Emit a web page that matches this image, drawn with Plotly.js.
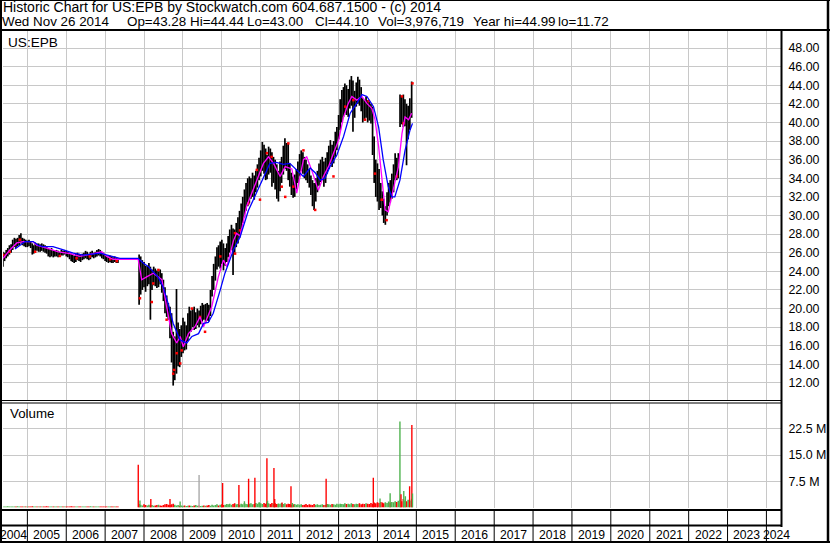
<!DOCTYPE html>
<html><head><meta charset="utf-8">
<script src="https://cdn.plot.ly/plotly-3.0.1.min.js"></script>
<style>html,body{margin:0;padding:0;background:#fff;overflow:hidden}#chart{width:830px;height:543px}</style>
</head><body><div id="chart"></div>
<script>
// ---- price bars (semi-monthly high / low / close) ----
const barDate = [
'2004-05-16','2004-06-01','2004-06-16','2004-07-01','2004-07-16','2004-08-01','2004-08-16','2004-09-01','2004-09-16','2004-10-01','2004-10-16','2004-11-01','2004-11-16','2004-12-01','2004-12-16',
'2005-01-01','2005-01-16','2005-02-01','2005-02-16','2005-03-01','2005-03-16','2005-04-01','2005-04-16','2005-05-01','2005-05-16','2005-06-01','2005-06-16','2005-07-01','2005-07-16','2005-08-01','2005-08-16','2005-09-01','2005-09-16','2005-10-01','2005-10-16','2005-11-01','2005-11-16','2005-12-01','2005-12-16',
'2006-01-01','2006-01-16','2006-02-01','2006-02-16','2006-03-01','2006-03-16','2006-04-01','2006-04-16','2006-05-01','2006-05-16','2006-06-01','2006-06-16','2006-07-01','2006-07-16','2006-08-01','2006-08-16','2006-09-01','2006-09-16','2006-10-01','2006-10-16','2006-11-01','2006-11-16','2006-12-01','2006-12-16',
'2007-01-01','2007-01-16','2007-02-01','2007-02-16','2007-03-01','2007-03-16','2007-04-01','2007-04-16','2007-05-01',
'2007-11-16','2007-12-01','2007-12-16',
'2008-01-01','2008-01-16','2008-02-01','2008-02-16','2008-03-01','2008-03-16','2008-04-01','2008-04-16','2008-05-01','2008-05-16','2008-06-01','2008-06-16','2008-07-01','2008-07-16','2008-08-01','2008-08-16','2008-09-01','2008-09-16','2008-10-01','2008-10-16','2008-11-01','2008-11-16','2008-12-01','2008-12-16',
'2009-01-01','2009-01-16','2009-02-01','2009-02-16','2009-03-01','2009-03-16','2009-04-01','2009-04-16','2009-05-01','2009-05-16','2009-06-01','2009-06-16','2009-07-01','2009-07-16','2009-08-01','2009-08-16','2009-09-01','2009-09-16','2009-10-01','2009-10-16','2009-11-01','2009-11-16','2009-12-01','2009-12-16',
'2010-01-01','2010-01-16','2010-02-01','2010-02-16','2010-03-01','2010-03-16','2010-04-01','2010-04-16','2010-05-01','2010-05-16','2010-06-01','2010-06-16','2010-07-01','2010-07-16','2010-08-01','2010-08-16','2010-09-01','2010-09-16','2010-10-01','2010-10-16','2010-11-01','2010-11-16','2010-12-01','2010-12-16',
'2011-01-01','2011-01-16','2011-02-01','2011-02-16','2011-03-01','2011-03-16','2011-04-01','2011-04-16','2011-05-01','2011-05-16','2011-06-01','2011-06-16','2011-07-01','2011-07-16','2011-08-01','2011-08-16','2011-09-01','2011-09-16','2011-10-01','2011-10-16','2011-11-01','2011-11-16','2011-12-01','2011-12-16',
'2012-01-01','2012-01-16','2012-02-01','2012-02-16','2012-03-01','2012-03-16','2012-04-01','2012-04-16','2012-05-01','2012-05-16','2012-06-01','2012-06-16','2012-07-01','2012-07-16','2012-08-01','2012-08-16','2012-09-01','2012-09-16','2012-10-01','2012-10-16','2012-11-01','2012-11-16','2012-12-01','2012-12-16',
'2013-01-01','2013-01-16','2013-02-01','2013-02-16','2013-03-01','2013-03-16','2013-04-01','2013-04-16','2013-05-01','2013-05-16','2013-06-01','2013-06-16','2013-07-01','2013-07-16','2013-08-01','2013-08-16','2013-09-01','2013-09-16','2013-10-01','2013-10-16','2013-11-01','2013-11-16','2013-12-01','2013-12-16',
'2014-01-01','2014-01-16','2014-02-01','2014-02-16','2014-03-01','2014-03-16','2014-04-01','2014-04-16','2014-05-01','2014-05-16','2014-06-01','2014-06-16','2014-07-01','2014-07-16','2014-08-01','2014-08-16','2014-09-01','2014-09-16','2014-10-01','2014-10-16','2014-11-01','2014-11-18'
];
const barHigh = [
26.1,26.0,26.3,26.5,26.8,26.9,27.4,27.6,27.5,27.6,27.9,28.1,27.6,27.5,27.4,
27.3,27.4,27.2,27.0,26.8,27.1,27.0,27.0,26.9,27.0,26.9,26.8,26.7,26.5,26.4,26.5,26.3,26.2,26.3,26.2,26.1,26.3,26.2,26.3,
26.2,26.1,26.0,25.9,25.8,25.7,25.9,26.0,25.9,25.8,25.9,26.0,26.2,26.1,25.9,26.1,26.2,26.0,26.1,26.3,26.4,26.3,26.1,26.0,
25.8,25.7,25.6,25.7,25.6,25.5,25.6,25.5,25.4,
25.8,25.6,25.2,
25.0,24.6,24.6,24.9,24.5,24.2,24.5,24.3,24.1,24.0,24.2,23.8,23.1,22.3,21.4,20.6,20.2,19.5,17.5,17.0,22.1,18.5,17.8,18.2,
19.0,18.6,18.2,19.5,20.2,19.8,20.0,20.2,19.6,20.0,19.8,20.3,20.6,20.4,20.5,20.6,20.4,22.0,23.5,24.8,25.6,26.6,26.8,27.2,
27.4,27.0,26.5,27.0,27.8,28.5,29.0,28.6,28.5,29.2,29.8,30.5,31.3,32.0,32.8,33.5,34.0,34.2,34.0,34.6,34.3,34.8,35.5,36.2,
37.0,37.9,37.6,37.2,36.5,37.4,37.2,36.8,36.3,36.0,35.5,34.8,35.8,36.3,37.5,38.3,37.8,37.8,35.6,34.6,34.2,34.4,35.0,35.8,
36.6,37.0,36.8,36.3,36.0,35.5,35.0,34.3,33.8,33.5,34.0,34.8,35.6,36.0,36.3,35.8,36.2,36.8,37.5,38.1,37.6,38.0,39.0,39.5,
40.8,42.5,43.5,43.8,44.2,44.0,43.6,44.6,44.99,44.5,43.4,44.3,44.9,44.6,43.8,42.6,42.4,42.8,42.4,42.2,42.0,41.7,38.5,36.0,
35.6,35.0,33.5,32.6,31.8,31.0,32.5,33.5,33.8,34.5,35.5,36.7,36.2,36.7,43.0,42.8,43.0,42.5,42.0,41.8,42.6,44.4
];
const barLow = [
24.5,25.1,25.4,25.6,25.8,26.0,26.3,26.6,26.5,26.7,26.8,27.0,26.8,26.7,26.6,
26.6,26.7,26.5,25.8,25.9,26.2,26.2,26.1,26.1,26.2,26.1,26.0,25.9,25.6,25.5,25.6,25.5,25.6,25.6,25.5,25.6,25.7,25.7,25.8,
25.6,25.5,25.3,25.1,25.0,24.9,25.0,25.2,25.1,25.0,25.2,25.3,25.4,25.3,25.2,25.3,25.5,25.4,25.5,25.6,25.7,25.6,25.4,25.3,
25.1,25.0,24.9,25.0,24.9,24.9,25.0,24.9,24.9,
20.4,21.5,22.0,
22.3,21.8,22.4,22.6,18.8,22.0,22.5,22.4,22.2,22.3,22.6,21.7,20.8,19.5,19.1,18.8,16.8,14.2,11.72,12.3,13.0,13.8,13.7,14.8,
15.2,15.5,15.6,16.5,17.0,17.5,18.0,17.7,17.8,18.2,18.0,18.3,18.6,18.8,18.5,18.7,18.6,19.2,21.3,22.0,23.0,24.2,24.5,24.3,
24.8,24.1,24.6,25.0,25.5,26.0,26.3,23.6,26.0,26.6,27.0,27.6,28.5,29.2,29.8,30.5,31.0,31.3,31.8,32.0,31.7,32.5,33.0,33.8,
34.2,34.8,34.5,33.8,33.9,34.4,34.6,33.1,33.5,32.8,31.8,31.5,32.6,33.5,34.4,35.0,34.8,33.8,33.1,32.2,31.9,32.0,32.8,33.5,
34.2,34.8,34.5,34.0,33.8,33.5,33.0,32.2,31.0,30.6,31.5,32.5,33.2,33.6,33.8,33.1,33.5,34.5,35.0,35.5,35.2,35.6,36.3,37.0,
38.2,39.2,40.0,40.6,41.0,40.8,40.6,41.5,41.8,39.0,40.5,41.7,42.0,41.8,41.2,40.0,40.2,40.5,40.0,40.2,39.9,36.5,33.5,32.0,
31.5,30.6,30.8,30.0,29.2,29.0,30.0,31.0,31.4,31.8,32.5,33.8,33.8,34.0,39.5,39.8,39.5,39.6,35.4,38.2,39.2,40.5
];
const barClose = [
25.3,25.7,25.9,26.1,26.4,26.6,27.0,27.1,26.9,27.3,27.6,27.4,27.1,27.2,27.0,
27.1,27.0,26.7,26.2,26.5,26.8,26.6,26.7,26.5,26.6,26.4,26.3,26.2,25.9,26.0,26.1,25.8,25.9,26.0,25.8,25.9,26.1,26.0,26.1,
25.9,25.8,25.6,25.4,25.3,25.2,25.5,25.7,25.5,25.4,25.6,25.7,25.9,25.8,25.5,25.7,25.9,25.6,25.8,26.0,26.1,25.9,25.7,25.6,
25.4,25.2,25.3,25.4,25.2,25.1,25.3,25.2,25.1,
22.5,23.5,24.0,
23.2,22.6,23.8,24.0,22.8,23.3,23.8,23.5,23.1,23.6,23.4,22.5,21.6,20.4,20.0,19.5,18.0,16.0,13.5,14.8,15.7,16.2,15.5,16.8,
17.5,16.6,17.0,18.5,18.0,18.8,19.2,18.6,18.9,19.3,18.7,19.6,19.8,19.5,20.0,19.8,19.3,21.0,22.8,23.6,24.5,25.8,25.4,26.2,
26.0,25.1,25.5,26.4,27.0,27.5,28.2,27.2,27.0,28.0,28.6,29.5,30.2,30.8,31.5,32.2,32.6,33.0,33.2,33.6,32.9,33.8,34.5,35.2,
36.0,36.7,35.8,35.0,35.4,36.2,36.0,34.5,34.7,33.9,33.0,33.2,34.5,35.3,36.4,36.8,35.9,34.6,34.0,33.0,32.8,33.6,34.2,35.0,
35.8,36.3,35.7,35.0,34.8,34.3,33.6,33.0,32.2,32.0,33.0,33.8,34.4,35.0,35.3,34.6,35.0,35.8,36.6,37.0,36.5,37.2,38.0,38.6,
39.8,41.5,42.2,42.5,42.9,42.0,42.4,43.2,43.5,41.5,42.0,43.1,43.6,42.8,42.2,41.5,41.0,41.8,41.2,40.8,40.5,38.0,35.0,34.2,
33.0,32.0,31.5,30.8,30.2,30.4,31.6,32.8,32.4,33.6,34.6,35.4,35.2,35.8,41.5,41.2,40.6,41.0,38.5,40.2,41.0,44.1
];
// ---- volume (millions) per bar ----
const barVol = [
0.30,0.25,0.30,0.35,0.28,0.30,0.32,0.27,0.30,0.33,0.28,0.30,0.26,0.30,0.29,
0.30,0.27,0.32,0.35,0.30,0.28,0.30,0.26,0.31,0.29,0.30,0.27,0.33,0.30,0.28,0.30,0.32,0.27,0.30,0.29,0.31,0.28,0.30,0.26,
0.30,0.28,0.31,0.33,0.30,0.27,0.30,0.32,0.29,0.30,0.28,0.31,0.30,0.27,0.30,0.33,0.29,0.30,0.28,0.31,0.30,0.27,0.29,0.30,
0.30,0.28,0.31,0.29,0.30,0.27,0.30,0.32,0.29,
1.0,0.8,0.6,
0.9,0.7,0.6,0.8,0.6,0.7,0.5,0.6,0.7,0.8,0.6,0.5,0.7,0.9,1.0,0.8,0.7,0.9,1.1,0.8,0.6,0.7,0.5,0.6,
0.5,0.6,0.4,0.5,0.6,0.5,0.4,0.6,0.7,0.5,0.6,0.4,0.5,0.6,0.5,0.6,0.7,0.5,0.8,0.6,0.7,0.9,0.6,0.8,
0.9,0.7,0.8,1.0,0.9,1.1,0.8,1.0,1.2,0.9,1.0,0.8,1.1,0.9,1.3,1.0,0.9,1.1,1.2,0.9,1.0,1.3,1.1,1.4,
1.2,1.0,1.3,1.1,1.4,1.2,1.0,1.3,1.1,1.2,1.0,0.9,1.1,1.3,1.0,1.2,0.9,1.1,1.0,0.8,0.9,1.0,0.8,0.9,
0.8,0.9,0.7,0.8,1.0,0.7,0.9,0.8,0.7,1.0,0.8,0.9,0.7,0.8,0.9,0.7,0.8,1.0,0.9,0.8,1.0,0.9,0.8,1.1,
0.9,1.1,1.0,0.9,1.2,1.0,1.1,0.9,1.2,1.0,0.9,1.1,1.0,1.2,0.9,1.1,1.0,1.2,1.1,1.0,1.3,1.1,1.4,1.2,
1.5,1.3,1.6,1.4,1.2,1.5,1.3,1.7,1.4,1.6,1.5,1.8,1.6,1.9,2.2,1.8,2.4,2.0,1.8,2.2,2.0,2.5
];
// ---- high-volume days (millions) ----
const spikeDate = ['2007-11-08','2007-11-24','2008-03-05','2008-09-01','2008-12-05','2009-06-01','2010-01-08','2010-06-10','2010-08-01','2010-09-09','2010-11-07','2010-12-20','2011-02-28','2011-03-06','2011-05-05','2011-05-12','2011-06-15','2011-07-20','2011-10-12','2011-10-25','2012-09-06','2013-11-23','2014-01-25','2014-04-30','2014-07-31','2014-08-10','2014-09-05','2014-09-20','2014-10-30','2014-11-20','2014-11-26'];
const spikeVol  = [12.2,2.0,2.4,2.4,1.7,9.3,7.0,6.4,1.8,8.2,8.5,1.4,14.1,1.9,11.3,2.4,1.15,1.4,6.1,1.25,8.2,8.5,2.6,4.1,24.6,3.8,4.7,3.2,6.1,23.6,4.0];
const spikeKind = ['r','g','r','r','g','k','r','r','g','r','r','g','r','g','r','r','g','r','r','g','r','r','g','g','g','r','g','g','r','r','g'];
// ---- moving averages ----
const fastDate = ['2004-05-19','2004-07-20','2004-09-24','2004-11-25','2005-02-24','2005-03-29','2005-07-02','2005-10-20','2006-02-06','2006-05-08','2006-09-13','2006-11-29','2007-01-16','2007-03-18','2007-11-07','2007-12-10','2008-01-26','2008-03-28','2008-05-15','2008-06-17','2008-07-31','2008-09-17','2008-11-03','2008-12-06','2009-01-04','2009-02-21','2009-04-23','2009-06-10','2009-07-13','2009-09-28','2009-11-29','2010-01-15','2010-02-17','2010-04-20','2010-05-19','2010-06-21','2010-08-22','2010-10-08','2010-11-08','2011-01-26','2011-03-15','2011-05-01','2011-07-02','2011-08-19','2011-10-20','2011-12-05','2012-02-06','2012-03-08','2012-04-23','2012-06-25','2012-08-11','2012-09-28','2012-11-14','2013-01-01','2013-02-17','2013-04-02','2013-05-05','2013-06-21','2013-08-08','2013-09-24','2013-11-10','2013-12-09','2014-01-12','2014-02-10','2014-03-14','2014-04-12','2014-05-30','2014-07-17','2014-08-19','2014-09-17','2014-10-20','2014-11-18'];
const fastVal  = [25.4,26.3,27.05,27.2,27.2,26.8,26.5,26.1,25.9,25.6,25.9,26.1,25.6,25.3,25.3,23.1,23.4,23.8,23.4,23.1,20.2,17.3,16.3,17.0,15.9,17.3,18.05,19.1,18.05,20.2,23.4,25.2,24.5,27.3,28.1,27.8,31.0,32.4,33.1,35.6,36.3,35.6,34.2,35.25,35.0,32.4,36.0,36.3,34.9,32.7,34.2,35.25,36.7,38.1,40.6,42.05,42.8,42.4,42.8,42.05,41.5,40.3,37.4,33.8,30.6,30.4,32.7,35.25,38.8,40.6,40.3,41.0];
const slowDate = ['2004-09-06','2004-12-10','2005-02-24','2005-04-13','2005-05-27','2005-08-29','2005-12-06','2006-03-08','2006-06-11','2006-11-14','2007-02-17','2007-05-19','2007-11-07','2007-12-24','2008-02-12','2008-03-14','2008-05-15','2008-07-02','2008-08-18','2008-10-01','2008-12-06','2009-02-06','2009-03-26','2009-05-27','2009-07-13','2009-08-26','2009-10-12','2009-12-17','2010-01-30','2010-04-20','2010-06-21','2010-09-06','2010-11-25','2011-01-26','2011-03-28','2011-05-30','2011-07-31','2011-10-01','2011-12-06','2012-02-06','2012-04-09','2012-05-26','2012-07-13','2012-08-26','2012-10-12','2012-12-16','2013-02-17','2013-04-20','2013-06-21','2013-08-08','2013-09-24','2013-11-25','2014-01-12','2014-02-24','2014-04-12','2014-05-15','2014-06-13','2014-07-31','2014-09-17','2014-11-03','2014-11-26'];
const slowVal  = [26.4,27.2,27.2,26.8,26.65,26.65,26.3,25.95,25.75,25.95,25.65,25.4,25.4,24.9,24.5,24.15,23.35,22.2,20.4,18.4,16.6,16.3,17.0,17.3,18.4,18.5,19.5,22.0,23.8,26.3,27.7,30.5,32.5,34.0,35.6,35.7,35.5,35.6,34.9,34.2,35.1,34.6,33.8,34.0,35.25,36.5,38.5,41.0,42.05,43.0,42.8,41.7,39.5,36.0,33.1,32.0,32.0,33.8,37.0,39.2,39.9];
// ---- red close ticks visible on the chart ----
const tickDate = ['2004-05-20','2004-07-20','2004-10-22','2005-03-15','2005-11-02','2006-04-08','2006-08-10','2007-02-17','2007-04-20','2007-11-24','2008-03-14','2008-03-28','2008-05-15','2008-07-31','2008-10-01','2008-10-10','2008-11-03','2008-12-06','2008-12-20','2009-03-26','2009-06-10','2009-07-27','2009-12-17','2010-05-05','2010-05-04','2010-06-21','2010-09-06','2010-11-25','2010-12-25','2011-02-28','2011-04-13','2011-07-17','2011-08-19','2011-09-17','2011-11-03','2012-02-06','2012-05-26','2012-11-14','2013-03-05','2013-05-20','2013-09-06','2013-10-10','2013-12-09','2014-02-10','2014-03-28','2014-07-02','2014-08-19','2014-09-02','2014-11-26'];
const tickVal  = [25.75,26.1,27.4,26.1,25.65,25.4,25.6,25.3,25.1,21.1,20.7,22.7,24.15,18.8,13.0,13.4,15.2,14.1,15.5,20.0,19.1,17.5,25.6,25.9,28.1,28.4,31.3,34.9,31.7,36.7,36.3,33.1,32.0,37.75,33.1,37.0,30.6,34.2,41.7,42.4,40.3,42.3,34.5,31.7,29.5,34.2,42.8,39.9,44.2];
// ---- axes ----
const priceTicks = [12,14,16,18,20,22,24,26,28,30,32,34,36,38,40,42,44,46,48];
const volTicks = [7.5,15,22.5];
const volTickText = ['7.5 M','15.0 M','22.5 M'];
const yearTicks = ['2005-01-01','2006-01-01','2007-01-01','2008-01-01','2009-01-01','2010-01-01','2011-01-01','2012-01-01','2013-01-01','2014-01-01','2015-01-01','2016-01-01','2017-01-01','2018-01-01','2019-01-01','2020-01-01','2021-01-01','2022-01-01','2023-01-01','2024-01-01'];
const yearLabels = ['2004','2005','2006','2007','2008','2009','2010','2011','2012','2013','2014','2015','2016','2017','2018','2019','2020','2021','2022','2023','2024'];
const yearLabelAt = ['2004-08-24','2005-07-02','2006-07-02','2007-07-02','2008-07-02','2009-07-02','2010-07-02','2011-07-02','2012-07-02','2013-07-02','2014-07-02','2015-07-02','2016-07-02','2017-07-02','2018-07-02','2019-07-02','2020-07-02','2021-07-02','2022-07-02','2023-07-02','2024-04-01'];

const W=830,H=543, FONT='"Liberation Sans", Arial, sans-serif';
const px=x=>x/W, py=y=>1-y/H;
const DAY=86400000;
const GREEN='#4fb34f', RED='#ff0000';

const volColor = barClose.map((c,i)=> i===0 || c>=barClose[i-1] ? GREEN : RED);
const kindColor = {r:RED,g:GREEN,k:'#a8a8a8'};

const traces = [
 {type:'bar', x:barDate, y:barVol, width:15*DAY, marker:{color:volColor,line:{width:0}}, xaxis:'x', yaxis:'y2', hoverinfo:'skip'},
 {type:'bar', x:spikeDate, y:spikeVol, width:13*DAY, marker:{color:spikeKind.map(k=>kindColor[k]),line:{width:0}}, xaxis:'x', yaxis:'y2', hoverinfo:'skip'},
 {type:'bar', x:barDate, base:barLow, y:barHigh.map((h,i)=>h-barLow[i]), width:16*DAY, marker:{color:'#000',line:{width:0}}, xaxis:'x', yaxis:'y', hoverinfo:'skip'},
 {type:'scatter', mode:'markers', x:tickDate, y:tickVal, marker:{symbol:'square',size:2.5,color:RED,line:{width:0}}, xaxis:'x', yaxis:'y', hoverinfo:'skip'},
 {type:'scatter', mode:'lines', x:fastDate, y:fastVal, line:{color:'#ff00ff',width:1.3}, xaxis:'x', yaxis:'y', hoverinfo:'skip'},
 {type:'scatter', mode:'lines', x:slowDate, y:slowVal, line:{color:'#0000ff',width:1.3}, xaxis:'x', yaxis:'y', hoverinfo:'skip'}
];

function line(x0,y0,x1,y1,w){return {type:'line',xref:'paper',yref:'paper',x0:px(x0),x1:px(x1),y0:py(y0),y1:py(y1),line:{color:'#000',width:w},layer:'above'};}
const shapes = [
 line(0,0.5,830,0.5,1), line(0,30,830,30,2), line(1,0,1,543,2), line(828,0,828,543,2.5), line(0,542,830,542,2),
 line(0,400.5,782,400.5,1), line(0,403,782,403,1), line(0,510,782,510,2), line(0,525.5,782,525.5,2),
 line(781.5,31,781.5,527,2)
];
yearTicks.forEach(d=>shapes.push({type:'line',xref:'x',yref:'paper',x0:d,x1:d,y0:py(510),y1:py(541),line:{color:'#000',width:1},layer:'above'}));

function txt(x,y,t,size){return {xref:'paper',yref:'paper',x:px(x),y:py(y),text:t,showarrow:false,xanchor:'left',yanchor:'middle',borderpad:0,font:{family:FONT,size:size||13.3,color:'#000'}};}
const annotations = [
 txt(2,7.2,'Historic Chart for US:EPB by Stockwatch.com 604.687.1500 - (c) 2014',14),
 txt(1,21.2,'Wed Nov 26 2014',13.4), txt(126,21.2,'Op=43.28',13.4), txt(189,21.2,'Hi=44.44',13.4), txt(246,21.2,'Lo=43.00',13.4),
 txt(314,21.2,'Cl=44.10',13.4), txt(377,21.2,'Vol=3,976,719',13.4), txt(472,21.2,'Year hi=44.99',13.4), txt(557,21.2,'lo=11.72',13.4),
 txt(7,42,'US:EPB',13.6), txt(9,413.8,'Volume',13.3)
];
yearLabels.forEach((l,i)=>annotations.push({xref:'x',yref:'paper',x:yearLabelAt[i],y:py(535),text:l,showarrow:false,xanchor:'center',yanchor:'middle',borderpad:0,font:{family:FONT,size:12.2,color:'#000'}}));

const layout = {
 width:W,height:H,margin:{l:0,r:0,t:0,b:0,autoexpand:false},paper_bgcolor:'#fff',plot_bgcolor:'#fff',showlegend:false,barmode:'overlay',
 xaxis:{type:'date',range:['2004-05-17','2024-05-17'],domain:[px(3),px(781)],tickmode:'array',tickvals:yearTicks,showticklabels:false,ticks:'',showgrid:true,gridcolor:'#c8c8c8',gridwidth:1,zeroline:false,showline:false,anchor:'y2',fixedrange:true},
 yaxis:{domain:[py(400),py(31)],range:[10.17,49.83],side:'right',tickmode:'array',tickvals:priceTicks,ticktext:priceTicks.map(v=>v.toFixed(2)),showgrid:true,gridcolor:'#c8c8c8',gridwidth:1,zeroline:false,showline:false,ticks:'outside',ticklen:4,tickcolor:'rgba(0,0,0,0)',tickfont:{family:FONT,size:12.4,color:'#000'},fixedrange:true},
 yaxis2:{domain:[py(507.5),py(402.5)],range:[0,30],side:'right',tickmode:'array',tickvals:volTicks,ticktext:volTickText,showgrid:true,gridcolor:'#c8c8c8',gridwidth:1,zeroline:false,showline:false,ticks:'outside',ticklen:4,tickcolor:'rgba(0,0,0,0)',tickfont:{family:FONT,size:12.4,color:'#000'},fixedrange:true},
 shapes:shapes, annotations:annotations
};
Plotly.newPlot('chart',traces,layout,{staticPlot:true,displayModeBar:false});
</script></body></html>
